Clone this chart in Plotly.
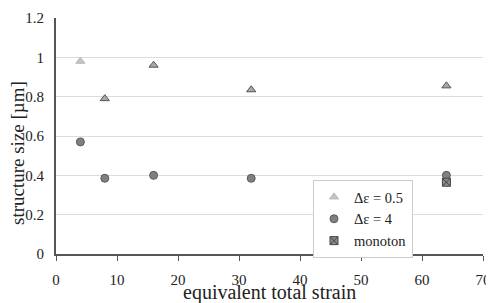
import plotly.graph_objects as go

strain = [4, 8, 16, 32, 64]
size_de05 = [0.98, 0.79, 0.96, 0.835, 0.855]
size_de4 = [0.57, 0.385, 0.40, 0.385, 0.40]
mono_strain = [64]
mono_size = [0.365]

font = "Liberation Serif"

fig = go.Figure()
fig.add_trace(go.Scatter(
    x=strain, y=size_de05, mode="markers", name="Δε = 0.5",
    marker=dict(symbol="triangle-up", size=8,
                color=["#c4c4c4", "#a8a8a8", "#a8a8a8", "#a8a8a8", "#a8a8a8"],
                line=dict(color=["#b8b8b8", "#555555", "#555555", "#555555", "#555555"], width=1)),
))
fig.add_trace(go.Scatter(
    x=strain, y=size_de4, mode="markers", name="Δε = 4",
    marker=dict(symbol="circle", size=8, color="#808080",
                line=dict(color="#5a5a5a", width=1)),
))
fig.add_trace(go.Scatter(
    x=mono_strain, y=mono_size, mode="markers", name="monoton",
    marker=dict(symbol="square-x", size=8, color="#8a8a8a",
                line=dict(color="#444444", width=1)),
))

# page body has an 8px margin, so the figure is sized/offset accordingly
W, H = 486, 295
L, T, R, B = 48, 10, 11, 49
PW, PH = W - L - R, H - T - B

fig.update_layout(
    width=W, height=H,
    margin=dict(l=L, r=R, t=T, b=B, autoexpand=False),
    paper_bgcolor="white", plot_bgcolor="white",
    font=dict(family=font, size=15, color="#222222"),
    xaxis=dict(range=[0, 70], tickvals=[0, 10, 20, 30, 40, 50, 60, 70],
               showgrid=False, zeroline=False, showline=True,
               linecolor="#555555", linewidth=2, automargin=False,
               ticks="outside", ticklen=5, tickcolor="#555555", tickwidth=1,
               tickfont=dict(family=font, size=15, color="#222222"),
               ticklabelstandoff=6),
    yaxis=dict(range=[0, 1.2], tickvals=[0, 0.2, 0.4, 0.6, 0.8, 1, 1.2],
               ticktext=["0", "0.2", "0.4", "0.6", "0.8", "1", "1.2"],
               showgrid=True, gridcolor="#dddddd", gridwidth=1, automargin=False,
               zeroline=False, showline=True, linecolor="#555555", linewidth=2,
               ticks="", tickfont=dict(family=font, size=15, color="#222222"),
               ticklabelstandoff=7),
    legend=dict(x=(305 - L) / PW, y=(H - B - 172) / PH, xanchor="left", yanchor="top",
                bordercolor="#cccccc", borderwidth=1, bgcolor="white",
                font=dict(family=font, size=14.5), tracegroupgap=0, itemwidth=30),
    showlegend=True,
    annotations=[
        dict(text="equivalent total strain", xref="paper", yref="paper",
             x=0.5, y=(H - B - 284) / PH, xanchor="center", yanchor="middle", showarrow=False,
             font=dict(family=font, size=20, color="#222222")),
        dict(text="structure size [µm]", xref="paper", yref="paper",
             x=(9 - L) / PW, y=(H - B - 145) / PH, xanchor="center", yanchor="middle",
             showarrow=False, textangle=-90,
             font=dict(family=font, size=19, color="#222222")),
    ],
)

fig.write_html("out.html")
